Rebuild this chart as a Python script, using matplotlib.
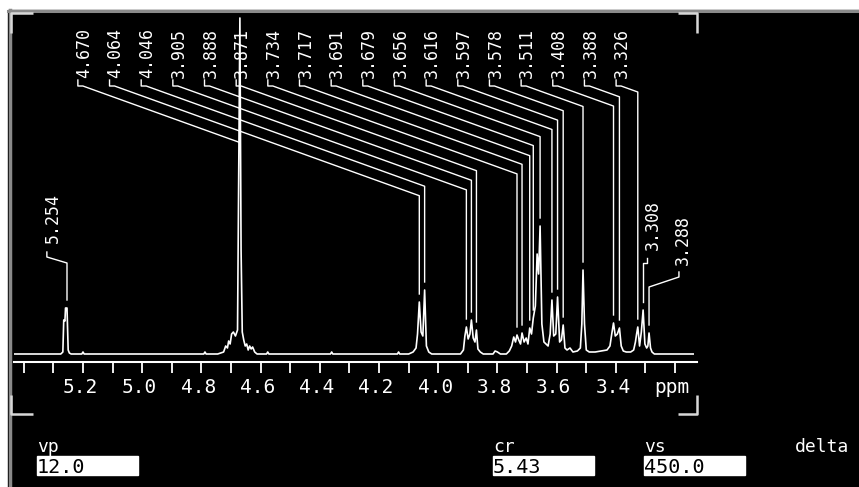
import numpy as np
import matplotlib.pyplot as plt
from matplotlib.patches import Rectangle
from matplotlib.transforms import ScaledTranslation

plt.rcParams['font.family'] = 'DejaVu Sans Mono'

# spectrum trace (ppm, intensity in screen units above baseline)
spectrum = [
    (5.433, 0), (5.275, 0), (5.268, 2), (5.265, 34), (5.261, 33), (5.259, 46), (5.254, 46),
    (5.250, 4), (5.246, 1), (5.240, 0),
    (5.204, 0), (5.200, 2), (5.196, 0),
    (4.792, 0), (4.788, 2), (4.784, 0),
    (4.745, 0), (4.735, 1), (4.725, 2), (4.718, 8), (4.712, 6), (4.708, 13), (4.703, 10),
    (4.698, 20), (4.692, 22), (4.685, 18), (4.678, 24), (4.670, 336), (4.666, 104), (4.662, 22),
    (4.657, 14), (4.652, 8), (4.647, 10), (4.642, 4), (4.637, 8), (4.632, 5), (4.627, 7),
    (4.620, 2), (4.612, 0),
    (4.580, 0), (4.576, 2), (4.572, 0),
    (4.364, 0), (4.360, 2), (4.356, 0),
    (4.138, 0), (4.134, 2), (4.130, 0),
    (4.100, 0), (4.085, 2), (4.075, 6), (4.070, 20), (4.064, 52), (4.058, 22), (4.052, 18),
    (4.046, 64), (4.040, 8), (4.032, 2), (4.022, 0),
    (3.925, 0), (3.915, 4), (3.910, 18), (3.905, 27), (3.899, 15), (3.893, 20), (3.888, 34),
    (3.882, 16), (3.876, 12), (3.871, 24), (3.866, 5), (3.858, 2), (3.848, 0),
    (3.815, 0), (3.808, 3), (3.800, 2), (3.790, 0),
    (3.770, 0), (3.760, 3), (3.752, 8), (3.745, 17), (3.739, 12), (3.734, 19), (3.728, 14),
    (3.722, 10), (3.717, 21), (3.710, 12), (3.703, 16), (3.697, 10), (3.691, 26), (3.685, 20),
    (3.679, 36), (3.672, 48), (3.666, 100), (3.661, 80), (3.656, 128), (3.650, 30), (3.643, 12),
    (3.636, 10), (3.629, 8), (3.622, 20), (3.616, 54), (3.610, 18), (3.603, 20), (3.597, 57),
    (3.590, 12), (3.584, 14), (3.578, 29), (3.572, 6), (3.565, 4), (3.555, 6), (3.545, 2),
    (3.530, 3), (3.520, 6), (3.515, 30), (3.511, 84), (3.506, 30), (3.500, 4), (3.490, 2),
    (3.470, 2), (3.450, 3), (3.430, 4), (3.420, 8), (3.414, 20), (3.408, 31), (3.402, 18),
    (3.395, 20), (3.388, 26), (3.382, 8), (3.375, 3), (3.365, 2), (3.350, 2), (3.340, 4),
    (3.334, 12), (3.330, 20), (3.326, 27), (3.320, 8), (3.314, 22), (3.308, 44), (3.302, 10),
    (3.296, 6), (3.292, 8), (3.288, 21), (3.283, 6), (3.278, 2), (3.270, 0), (3.139, 0),
]
spec_ppm, spec_int = np.array(spectrum).T

# peaks labelled along the top
top_peaks = [4.670, 4.064, 4.046, 3.905, 3.888, 3.871, 3.734, 3.717, 3.691,
             3.679, 3.656, 3.616, 3.597, 3.578, 3.511, 3.408, 3.388, 3.326]
# peaks labelled beside the trace
side_peaks = [5.254, 3.308, 3.288]

tick_pos = [5.4, 5.3, 5.2, 5.1, 5.0, 4.9, 4.8, 4.7, 4.6, 4.5, 4.4, 4.3,
            4.2, 4.1, 4.0, 3.9, 3.8, 3.7, 3.6, 3.5, 3.4, 3.3, 3.2]
tick_lab = ['', '', '5.2', '', '5.0', '', '4.8', '', '4.6', '', '4.4', '',
            '4.2', '', '4.0', '', '3.8', '', '3.6', '', '3.4', '', 'ppm']

field_names = ['vp', 'cr', 'vs', 'delta']
field_values = ['12.0', '5.43', '450.0', None]

W, H = 859, 487
fig = plt.figure(figsize=(W / 100, H / 100), dpi=100, facecolor='white')

# screen frame in pixel coordinates
ov = fig.add_axes([0, 0, 1, 1], zorder=0)
ov.set_xlim(0, W)
ov.set_ylim(H, 0)
ov.axis('off')
ov.add_patch(Rectangle((8, 10), W - 8, H - 10, color='black'))
ov.plot([9.5, 9.5], [10, H], color='#8a8a8a', lw=2.5)
ov.plot([8, W], [11.2, 11.2], color='#8a8a8a', lw=2.2)
br = dict(color='#d8d8d8', lw=1.8, solid_capstyle='butt')
ov.plot([11, 11, 33], [33, 13, 13], **br)
ov.plot([678, 697, 697], [13, 13, 33], **br)
ov.plot([11, 11, 33], [395, 414, 414], **br)
ov.plot([678, 697, 697], [414, 414, 395], **br)

for name, val, x in zip(field_names, field_values, [37, 493, 644, 795]):
    ov.text(x, 452, name, color='white', fontsize=13, va='baseline', ha='left')
    if val is not None:
        ov.add_patch(Rectangle((x, 456), 101, 19, color='white'))
        ov.text(x, 473, val, color='black', fontsize=14.5, va='baseline', ha='left')

# spectrum axes
ax = fig.add_axes([14 / W, 87 / H, 683 / W, 389 / H], zorder=1)
ax.set_facecolor('none')
ax.set_xlim(5.433, 3.126)
ax.set_ylim(-46, 343)
px = (5.433 - 3.126) / 683  # ppm per screen pixel

ax.plot(spec_ppm, spec_int, color='white', lw=1.2)

for s in ['left', 'right', 'top']:
    ax.spines[s].set_visible(False)
ax.spines['bottom'].set_position(('data', -8))
ax.spines['bottom'].set_color('white')
ax.spines['bottom'].set_linewidth(1.5)
ax.set_yticks([])
ax.set_xticks(tick_pos)
ax.set_xticklabels(tick_lab)
ax.tick_params(axis='x', direction='out', length=8, width=1.3, color='white',
               labelcolor='white', labelsize=14, pad=3.5)
shift = ScaledTranslation(-0.03, 0, fig.dpi_scale_trans)
for lbl in ax.get_xticklabels():
    lbl.set_transform(lbl.get_transform() + shift)


def peak_top(p):
    return np.interp(p, spec_ppm[::-1], spec_int[::-1])


# top labels with slanted leaders
label_x = np.linspace(5.197, 3.379, len(top_peaks))
for lx, p in zip(label_x, top_peaks):
    ax.text(lx, 326, f'{p:.3f}', rotation=90, ha='center', va='top',
            color='white', fontsize=12)
    h0, h1 = lx + 6 * px, lx + 1 * px
    yd = 268 - 0.36 * (h1 - p) / px
    xs = [h0, h0, h1, p]
    ys = [274, 268, 268, yd]
    end = peak_top(p) + 8
    if end < yd:
        xs.append(p)
        ys.append(end)
    ax.plot(xs, ys, color='white', lw=1)

# side labels: text x, text bottom, hook x, hook top, hook bottom, bend height
side_layout = [
    (5.301, 111, 5.322, 102, 97, 91),
    (3.275, 104, 3.295, 96, 91, 91),
    (3.173, 89, 3.187, 82, 77, 67),
]
for p, (tx, tb, hx, ht, hb, bend) in zip(side_peaks, side_layout):
    ax.text(tx, tb, f'{p:.3f}', rotation=90, ha='center', va='bottom',
            color='white', fontsize=12)
    ax.plot([hx, hx, p, p], [ht, hb, bend, peak_top(p) + 8], color='white', lw=1)

fig.savefig('out.png', dpi=100, facecolor='white')
